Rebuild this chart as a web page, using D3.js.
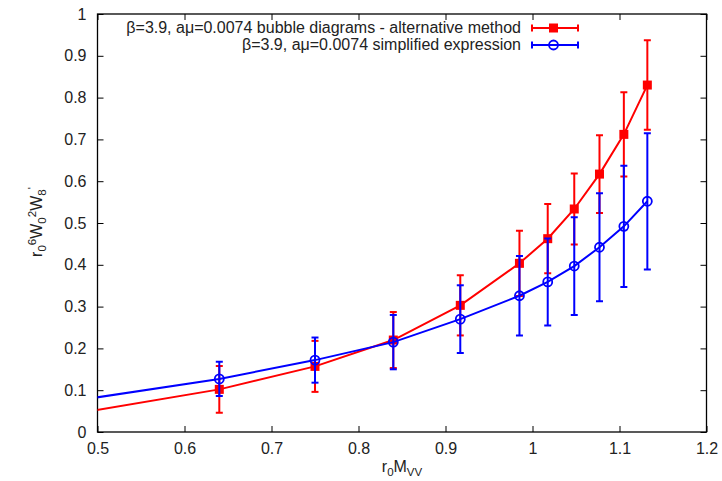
<!DOCTYPE html>
<html>
<head>
<meta charset="utf-8">
<script src="https://cdn.jsdelivr.net/npm/d3@7/dist/d3.min.js"></script>
<style>
  html, body { margin: 0; padding: 0; background: #fff; }
  svg { display: block; }
  text { font-family: "Liberation Sans", Arial, Helvetica, sans-serif; fill: #222; }
</style>
</head>
<body>
<svg id="chart" width="722" height="481"></svg>
<script>
// r0*M_VV values (the first one lies left of the plotted range; only its line segment shows)
const xValues = [0.45, 0.64, 0.75, 0.84, 0.917, 0.985, 1.0175, 1.048, 1.077, 1.105, 1.132];

// bubble diagrams - alternative method
const altValues = [0.0355, 0.102, 0.157, 0.220, 0.303, 0.4035, 0.4625, 0.5335, 0.617, 0.712, 0.830];
const altErrors = [0.05, 0.056, 0.061, 0.067, 0.072, 0.078, 0.083, 0.085, 0.093, 0.101, 0.107];

// simplified expression
const simpValues = [0.0673, 0.127, 0.172, 0.215, 0.270, 0.326, 0.359, 0.397, 0.442, 0.492, 0.552];
const simpErrors = [0.035, 0.041, 0.054, 0.065, 0.081, 0.095, 0.104, 0.117, 0.129, 0.145, 0.163];

const seriesNames = [
  "\u03b2=3.9, a\u03bc=0.0074 bubble diagrams - alternative method",
  "\u03b2=3.9, a\u03bc=0.0074 simplified expression"
];

const xTicks = [0.5, 0.6, 0.7, 0.8, 0.9, 1, 1.1, 1.2];
const yTicks = [0, 0.1, 0.2, 0.3, 0.4, 0.5, 0.6, 0.7, 0.8, 0.9, 1];

const svg = d3.select("#chart");
const plotLeft = 97.5, plotRight = 706.5, plotTop = 14, plotBottom = 432;
const fontSize = 16, smallSize = 11.5;

const x = d3.scaleLinear().domain([0.5, 1.2]).range([plotLeft, plotRight]);
const y = d3.scaleLinear().domain([0, 1]).range([plotBottom, plotTop]);

svg.append("defs").append("clipPath").attr("id", "plotClip")
  .append("rect").attr("x", plotLeft).attr("y", plotTop)
  .attr("width", plotRight - plotLeft).attr("height", plotBottom - plotTop);

// axes with inward ticks, mirrored on top and right
const tickLen = 6;
const fmt = d => d3.format("")(d);
const axisBottom = d3.axisBottom(x).tickValues(xTicks).tickFormat(fmt).tickSizeInner(-tickLen).tickSizeOuter(0).tickPadding(11);
const axisTop = d3.axisTop(x).tickValues(xTicks).tickFormat("").tickSizeInner(-tickLen).tickSizeOuter(0);
const axisLeft = d3.axisLeft(y).tickValues(yTicks).tickFormat(fmt).tickSizeInner(-tickLen).tickSizeOuter(0).tickPadding(11);
const axisRight = d3.axisRight(y).tickValues(yTicks).tickFormat("").tickSizeInner(-tickLen).tickSizeOuter(0);

function styleAxis(g) {
  g.select(".domain").remove();
  g.selectAll(".tick line").attr("stroke", "#000").attr("stroke-width", 1);
  g.selectAll(".tick text").attr("font-size", fontSize).attr("fill", "#222")
    .attr("font-family", "Liberation Sans, Arial, sans-serif");
}
svg.append("g").attr("transform", `translate(0,${plotBottom})`).call(axisBottom).call(styleAxis);
svg.append("g").attr("transform", `translate(0,${plotTop})`).call(axisTop).call(styleAxis);
svg.append("g").attr("transform", `translate(${plotLeft},0)`).call(axisLeft).call(styleAxis);
svg.append("g").attr("transform", `translate(${plotRight},0)`).call(axisRight).call(styleAxis);

// plot border
svg.append("rect").attr("x", plotLeft).attr("y", plotTop)
  .attr("width", plotRight - plotLeft).attr("height", plotBottom - plotTop)
  .attr("fill", "none").attr("stroke", "#000").attr("stroke-width", 1.3);

// axis titles
const xl = svg.append("text").attr("x", 402).attr("y", 472)
  .attr("text-anchor", "middle").attr("font-size", fontSize);
xl.append("tspan").text("r");
xl.append("tspan").attr("font-size", smallSize).attr("dy", 4).text("0");
xl.append("tspan").attr("dy", -4).text("M");
xl.append("tspan").attr("font-size", smallSize).attr("dy", 4).text("VV");

const yl = svg.append("text").attr("transform", "translate(42,222) rotate(-90)")
  .attr("text-anchor", "middle").attr("font-size", fontSize);
yl.append("tspan").text("r");
yl.append("tspan").attr("font-size", smallSize).attr("dy", 4).text("0");
yl.append("tspan").attr("font-size", smallSize).attr("dy", -10).text("6");
yl.append("tspan").attr("dy", 6).text("W");
yl.append("tspan").attr("font-size", smallSize).attr("dy", 4).text("0");
yl.append("tspan").attr("font-size", smallSize).attr("dy", -10).text("2");
yl.append("tspan").attr("dy", 6).text("W");
yl.append("tspan").attr("font-size", smallSize).attr("dy", 4).text("8");
yl.append("tspan").attr("font-size", smallSize).attr("dy", -10).text("'");

const series = [
  { name: seriesNames[0], values: altValues, errors: altErrors, color: "#ff0000", marker: "square" },
  { name: seriesNames[1], values: simpValues, errors: simpErrors, color: "#0000ff", marker: "circle" }
];

const plot = svg.append("g").attr("clip-path", "url(#plotClip)");
const capHalf = 3.5;
const [xMin, xMax] = x.domain();

function drawMarker(g, kind, cx, cy, color) {
  if (kind === "square") {
    g.append("rect").attr("x", cx - 4.5).attr("y", cy - 4.5).attr("width", 9).attr("height", 9)
      .attr("fill", color);
  } else {
    g.append("circle").attr("cx", cx).attr("cy", cy).attr("r", 4.5)
      .attr("fill", "none").attr("stroke", color).attr("stroke-width", 1.8);
  }
}

series.forEach(s => {
  const pts = xValues.map((xv, i) => ({ x: xv, y: s.values[i], e: s.errors[i] }));
  const g = plot.append("g");
  const line = d3.line().x(d => x(d.x)).y(d => y(d.y));
  g.append("path").datum(pts).attr("d", line)
    .attr("fill", "none").attr("stroke", s.color).attr("stroke-width", 2);

  const shown = pts.filter(d => d.x >= xMin && d.x <= xMax);
  shown.forEach(d => {
    const cx = x(d.x), y1 = y(d.y + d.e), y0 = y(d.y - d.e);
    g.append("line").attr("x1", cx).attr("x2", cx).attr("y1", y1).attr("y2", y0)
      .attr("stroke", s.color).attr("stroke-width", 2);
    [y1, y0].forEach(yy => g.append("line")
      .attr("x1", cx - capHalf).attr("x2", cx + capHalf).attr("y1", yy).attr("y2", yy)
      .attr("stroke", s.color).attr("stroke-width", 2));
    drawMarker(g, s.marker, cx, y(d.y), s.color);
  });
});

// legend
const legend = svg.append("g");
series.forEach((s, i) => {
  const ly = 28 + i * 17;
  legend.append("text").attr("x", 521).attr("y", ly + 5).attr("text-anchor", "end")
    .attr("font-size", fontSize).text(s.name);
  legend.append("line").attr("x1", 532).attr("x2", 578).attr("y1", ly).attr("y2", ly)
    .attr("stroke", s.color).attr("stroke-width", 2);
  [532, 578].forEach(xx => legend.append("line").attr("x1", xx).attr("x2", xx)
    .attr("y1", ly - capHalf).attr("y2", ly + capHalf)
    .attr("stroke", s.color).attr("stroke-width", 2));
  drawMarker(legend, s.marker, 553.5, ly, s.color);
});
</script>
</body>
</html>
